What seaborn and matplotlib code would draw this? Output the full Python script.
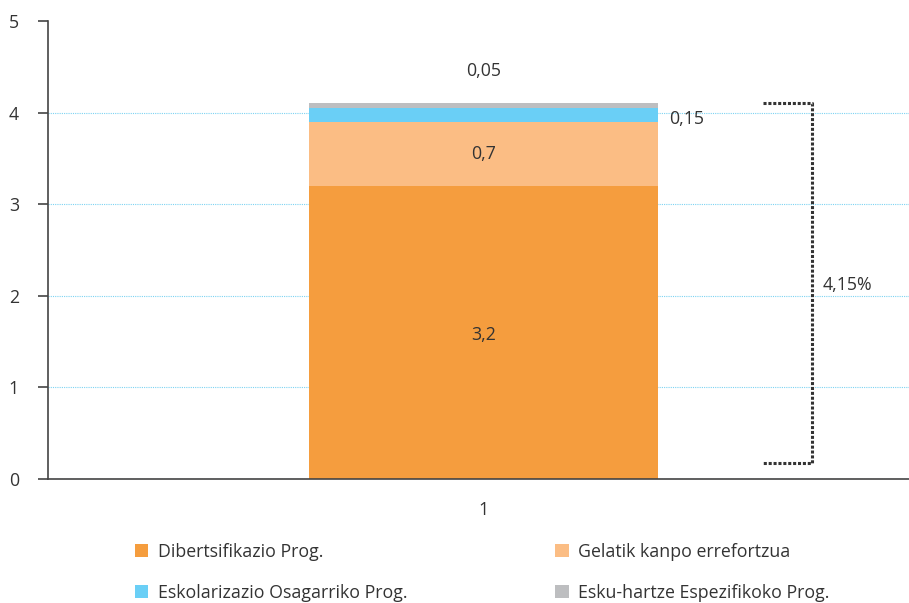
import matplotlib
matplotlib.use("Agg")
import matplotlib.pyplot as plt
from matplotlib.patches import Patch
import seaborn as sns
import pandas as pd

# Data
category = ["1"]
series_names = ["Dibertsifikazio Prog.", "Gelatik kanpo errefortzua",
                "Eskolarizazio Osagarriko Prog.", "Esku-hartze Espezifikoko Prog."]
series_values = [3.2, 0.7, 0.15, 0.05]
value_labels = ["3,2", "0,7", "0,15", "0,05"]
colors = ["#F59D3E", "#FBBD84", "#6ACFF6", "#BDBEC0"]
total_label = "4,15%"

sns.set_theme(style="white")
plt.rcParams['font.family'] = ['Open Sans', 'DejaVu Sans']
text_color = "#333333"
fs = 12.8

fig = plt.figure(figsize=(9.09, 6.03), dpi=100)
ax = fig.add_axes([48 / 909, 1 - 479 / 603, 861 / 909, 458 / 603])

# stacked bar: draw cumulative totals from the top down
cum = []
running = 0
for v in series_values:
    running += v
    cum.append(running)

for i in reversed(range(len(series_values))):
    df = pd.DataFrame({"cat": category, "val": [cum[i]]})
    sns.barplot(data=df, x="cat", y="val", color=colors[i], saturation=1,
                width=1.0, linewidth=0, ax=ax, zorder=2)

ax.set_xlim(-1.249, 1.218)
ax.set_ylim(0, 5)
ax.set_yticks([0, 1, 2, 3, 4, 5])
ax.set_xlabel("")
ax.set_ylabel("")

# gridlines
ax.yaxis.grid(True, linestyle=(0, (1, 1)), color="#7DD3F2", linewidth=0.8, zorder=0)
ax.set_axisbelow(True)
ax.yaxis.get_gridlines()[-1].set_visible(False)

for side in ["top", "right"]:
    ax.spines[side].set_visible(False)
for side in ["left", "bottom"]:
    ax.spines[side].set_color("#444444")
    ax.spines[side].set_linewidth(1.2)

ax.tick_params(axis="y", length=7, width=1.2, color="#444444", labelsize=fs,
               labelcolor=text_color, pad=14, direction="out", left=True)
ax.tick_params(axis="x", length=0, labelsize=fs, labelcolor=text_color, pad=16)

# segment labels
bottoms = [0] + cum[:-1]
ax.text(0, bottoms[0] + series_values[0] / 2 - 0.03, value_labels[0], ha="center",
        va="center", fontsize=fs, color=text_color)
ax.text(0, bottoms[1] + series_values[1] / 2, value_labels[1], ha="center",
        va="center", fontsize=fs, color=text_color)
ax.text(0.53, bottoms[2] + series_values[2] / 2 - 0.04, value_labels[2], ha="left",
        va="center", fontsize=fs, color=text_color)
ax.text(0, cum[3] + 0.35, value_labels[3], ha="center", va="center", fontsize=fs,
        color=text_color)

# bracket showing the total
bx0, bx1 = 0.80, 0.94
ylo, yhi = 0.17, cum[-1]
ax.plot([bx0, bx1, bx1, bx0], [yhi, yhi, ylo, ylo], color="#333333",
        linestyle=(0, (1, 0.6)), linewidth=2.2, zorder=3, clip_on=False)
ax.text(bx1 + 0.03, 2.12, total_label, ha="left", va="center", fontsize=fs,
        color=text_color)

# legend
order = [0, 2, 1, 3]
handles = [Patch(facecolor=colors[i], edgecolor="none") for i in order]
labels = [series_names[i] for i in order]
fig.legend(handles, labels, ncol=2, loc="upper left", bbox_to_anchor=(135 / 909, 1 - 543 / 603),
           frameon=False, fontsize=fs, handlelength=0.75, handleheight=0.75,
           handletextpad=0.55, columnspacing=8.3, labelspacing=1.3,
           borderpad=0, borderaxespad=0, labelcolor=text_color)

fig.savefig("out.png", dpi=100)
